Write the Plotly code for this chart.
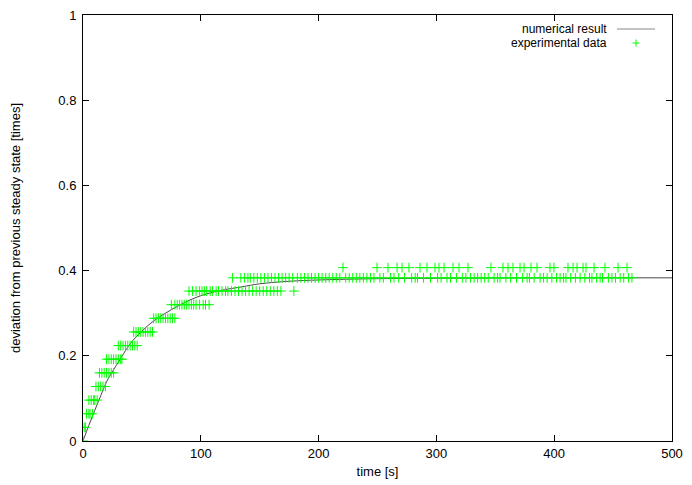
import plotly.graph_objects as go

# ---- numerical result ----
model_t = [0, 5, 10, 15, 20, 25, 30, 40, 50, 60, 70, 80, 90, 100, 110, 120,
           135, 150, 175, 200, 250, 300, 400, 500]
model_y = [0, 0.037, 0.072, 0.106, 0.139, 0.163, 0.185, 0.228, 0.258, 0.282,
           0.300, 0.316, 0.330, 0.341, 0.349, 0.355, 0.362, 0.369, 0.375,
           0.378, 0.381, 0.382, 0.383, 0.383]

# ---- experimental data: quantized levels and the times at which each occurs ----
levels = [0.0, 0.032, 0.064, 0.096, 0.128, 0.160, 0.192, 0.224, 0.256,
          0.288, 0.320, 0.352, 0.383, 0.407]
t_l00 = [0]
t_l01 = [1, 2]
t_l02 = [3, 5, 6, 8]
t_l03 = [5, 7, 9, 10, 12]
t_l04 = [11, 13, 15, 17, 19]
t_l05 = [14, 16, 18, 20, 22, 24, 26]
t_l06 = [20, 22, 24, 26, 28, 30, 32, 33]
t_l07 = [30, 32, 34, 36, 38, 40, 42, 44, 46]
t_l08 = [43, 45, 47, 49, 51, 53, 55, 57, 59]
t_l09 = [60, 62, 64, 66, 68, 70, 72, 74, 76, 78]
t_l10 = [75, 78, 80, 82, 84, 86, 88, 90, 92, 94, 96, 99, 102, 104, 107]
t_l11 = [90, 93, 96, 99, 101, 103, 105, 108, 110, 113, 115, 118, 121, 123,
         126, 129, 132, 135, 138, 141, 144, 147, 150, 153, 156, 159, 162, 165,
         168, 179]
t_l12 = [127, 134, 137, 140, 142, 145, 148, 151, 154, 157, 160, 163, 166, 169,
         172, 175, 178, 182, 185, 188, 191, 194, 197, 200, 203, 206, 209, 212,
         215, 218, 223, 226, 229, 232, 235, 238, 241, 244, 247, 252, 255, 261,
         264, 268, 273, 279, 282, 284, 289, 295, 301, 304, 309, 312, 317, 322,
         325, 329, 332, 335, 338, 341, 344, 349, 352, 354, 359, 363, 368, 373,
         377, 379, 383, 388, 391, 394, 398, 402, 405, 408, 410, 414, 418, 422,
         426, 430, 432, 436, 439, 441, 446, 449, 452, 456, 459, 463, 466]
t_l13 = [220.7, 249.6, 258.9, 266.6, 270.8, 276.7, 286.1, 292, 298.8, 302.2,
         306.5, 314.1, 319.2, 326.8, 346.3, 356.5, 360.8, 365, 371, 374.4,
         380.3, 385.4, 396.4, 399.8, 411.7, 416, 419.4, 424.5, 427, 433.8,
         443.1, 454.2, 461.8]
level_times = [t_l00, t_l01, t_l02, t_l03, t_l04, t_l05, t_l06, t_l07, t_l08,
               t_l09, t_l10, t_l11, t_l12, t_l13]

exp_t, exp_y = [], []
for lv, ts in zip(levels, level_times):
    for t in ts:
        exp_t.append(t)
        exp_y.append(lv)

x_ticks = [0, 100, 200, 300, 400, 500]
y_ticks = [0, 0.2, 0.4, 0.6, 0.8, 1]

FONT = "Liberation Sans, Arial, Helvetica, sans-serif"
FS = 13
FS_KEY = 12
GREEN = "#00ff00"
LINE = "#4a4a4a"

fig = go.Figure()
fig.add_trace(go.Scatter(x=model_t, y=model_y, mode="lines", line_shape="spline",
                         line=dict(color=LINE, width=1), name="numerical result",
                         showlegend=False))
fig.add_trace(go.Scatter(x=exp_t, y=exp_y, mode="markers", name="experimental data",
                         marker=dict(symbol="cross-thin", size=7,
                                     line=dict(color=GREEN, width=1), color=GREEN),
                         showlegend=False))

axis_common = dict(showline=True, linecolor="black", linewidth=1, mirror="ticks",
                   ticks="inside", ticklen=6, tickcolor="black", tickwidth=1,
                   showgrid=False, zeroline=False, ticklabeloverflow="allow",
                   tickfont=dict(family=FONT, size=FS, color="black"))

fig.update_xaxes(range=[0, 500], tickvals=x_ticks, ticktext=[str(v) for v in x_ticks],
                 title=dict(text="time [s]", font=dict(family=FONT, size=FS, color="black"),
                            standoff=7),
                 **axis_common)
fig.update_yaxes(range=[0, 1], tickvals=y_ticks, ticktext=["0", "0.2", "0.4", "0.6", "0.8", "1"],
                 ticklabelstandoff=3,
                 title=dict(text="deviation from previous steady state [times]",
                            font=dict(family=FONT, size=FS, color="black"), standoff=46),
                 **axis_common)

# page has an 8px body margin; figure coords = page coords - 8
PL, PR, PT, PB = 75, 664, 7, 433   # plot area in figure px

def px_x(px):
    return (px - 8 - PL) / (PR - PL)

def px_y(py):
    return (PB - (py - 8)) / (PB - PT)

annotations = [
    dict(text="numerical result", xref="paper", yref="paper", x=px_x(609), y=px_y(29),
         xanchor="right", yanchor="middle", showarrow=False,
         font=dict(family=FONT, size=FS_KEY, color="black")),
    dict(text="experimental data", xref="paper", yref="paper", x=px_x(609), y=px_y(43),
         xanchor="right", yanchor="middle", showarrow=False,
         font=dict(family=FONT, size=FS_KEY, color="black")),
]
shapes = [
    dict(type="line", xref="paper", yref="paper", x0=px_x(617), x1=px_x(655),
         y0=px_y(29), y1=px_y(29), line=dict(color="#888888", width=1)),
    dict(type="line", xref="paper", yref="paper", xsizemode="pixel", ysizemode="pixel",
         xanchor=px_x(636), yanchor=px_y(43), x0=-3.5, x1=3.5, y0=0, y1=0,
         line=dict(color=GREEN, width=1)),
    dict(type="line", xref="paper", yref="paper", xsizemode="pixel", ysizemode="pixel",
         xanchor=px_x(636), yanchor=px_y(43), x0=0, x1=0, y0=-3.5, y1=3.5,
         line=dict(color=GREEN, width=1)),
]

fig.update_layout(width=684, height=477,
                  margin=dict(l=PL, r=684 - PR, t=PT, b=477 - PB, autoexpand=False),
                  paper_bgcolor="white", plot_bgcolor="white",
                  font=dict(family=FONT, size=FS, color="black"),
                  annotations=annotations, shapes=shapes, showlegend=False)

fig.write_html("out.html")
